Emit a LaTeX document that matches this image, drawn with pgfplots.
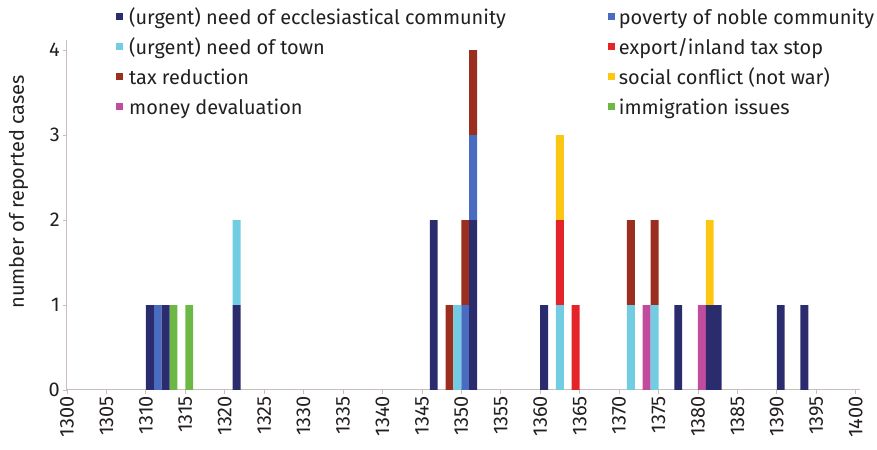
\documentclass[border=0pt]{standalone}
\usepackage{pgfplots}
\pgfplotsset{compat=1.18}
\usepackage{pgfplotstable}
\usepackage{fontspec}
\setmainfont{Fira Sans}
\definecolor{ecc}{HTML}{2B2C6E}
\definecolor{pov}{HTML}{4A6CC0}
\definecolor{town}{HTML}{72CDE2}
\definecolor{expo}{HTML}{E52429}
\definecolor{tax}{HTML}{9B2E1F}
\definecolor{soc}{HTML}{FCC712}
\definecolor{mon}{HTML}{C14C9E}
\definecolor{imm}{HTML}{6BB944}
\definecolor{axgray}{HTML}{C9BEBA}
\definecolor{txt}{HTML}{231F20}

\pgfplotstableread{
x ecc pov town exp tax soc mon imm
1310.5 1 0 0 0 0 0 0 0
1311.5 0 1 0 0 0 0 0 0
1312.5 1 0 0 0 0 0 0 0
1313.5 0 0 0 0 0 0 0 1
1315.5 0 0 0 0 0 0 0 1
1321.5 1 0 1 0 0 0 0 0
1346.5 2 0 0 0 0 0 0 0
1348.5 0 0 0 0 1 0 0 0
1349.5 0 0 1 0 0 0 0 0
1350.5 0 1 0 0 1 0 0 0
1351.5 2 1 0 0 1 0 0 0
1360.5 1 0 0 0 0 0 0 0
1362.5 0 0 1 1 0 1 0 0
1364.5 0 0 0 1 0 0 0 0
1371.5 0 0 1 0 1 0 0 0
1373.5 0 0 0 0 0 0 1 0
1374.5 0 0 1 0 1 0 0 0
1377.5 1 0 0 0 0 0 0 0
1380.5 0 0 0 0 0 0 1 0
1381.5 1 0 0 0 0 1 0 0
1382.5 1 0 0 0 0 0 0 0
1390.5 1 0 0 0 0 0 0 0
1393.5 1 0 0 0 0 0 0 0
}\data

\newcommand{\ff}{\fontsize{20}{20}\selectfont}
\begin{document}
\begin{tikzpicture}
\begin{axis}[
  scale only axis, width=793bp, height=350bp,
  xmin=1300, xmax=1400.55, ymin=0, ymax=4.12,
  ybar stacked, bar width=1,
  axis x line=bottom, axis y line=left,
  axis line style={-, draw=axgray, line width=1bp},
  tick style={draw=axgray, line width=0.8bp},
  tick align=outside, major tick length=4bp,
  xtick={1300,1305,...,1400}, ytick={0,1,2,3,4},
  /pgf/number format/assume math mode=true,
  /pgf/number format/1000 sep={},
  ticklabel style={font=\ff, text=txt},
  xticklabel style={rotate=90, anchor=east, inner sep=2bp},
  yticklabel style={inner sep=3bp},
  ylabel={number of reported cases},
  ylabel style={font=\ff, text=txt, at={(axis description cs:-0.061,0.566)}, anchor=center},
  legend columns=2,
  legend cell align=left,
  legend image code/.code={\fill[#1] (0bp,-0.5bp) rectangle (7bp,6.5bp);},
  legend style={draw=none, fill=none, at={(axis description cs:0.058,1.092)}, anchor=north west,
    font=\ff, text=txt,
    nodes={inner sep=1bp, text height=14bp, text depth=4bp},
    row sep=10bp,
    /tikz/column 1/.style={column sep=5bp},
    /tikz/column 2/.style={column sep=101bp},
    /tikz/column 3/.style={column sep=3bp}},
]
\addplot[fill=ecc, draw=none] table[x=x, y=ecc] {\data};
\addlegendentry{(urgent) need of ecclesiastical community}
\addplot[fill=pov, draw=none] table[x=x, y=pov] {\data};
\addlegendentry{poverty of noble community}
\addplot[fill=town, draw=none] table[x=x, y=town] {\data};
\addlegendentry{(urgent) need of town}
\addplot[fill=expo, draw=none] table[x=x, y=exp] {\data};
\addlegendentry{export/inland tax stop}
\addplot[fill=tax, draw=none] table[x=x, y=tax] {\data};
\addlegendentry{tax reduction}
\addplot[fill=soc, draw=none] table[x=x, y=soc] {\data};
\addlegendentry{social conflict (not war)}
\addplot[fill=mon, draw=none] table[x=x, y=mon] {\data};
\addlegendentry{money devaluation}
\addplot[fill=imm, draw=none] table[x=x, y=imm] {\data};
\addlegendentry{immigration issues}
\path (rel axis cs:0,0) coordinate (O);
\end{axis}
\pgfresetboundingbox
\useasboundingbox ([shift={(-67bp,-60bp)}]O) rectangle ([shift={(810bp,390bp)}]O);
\end{tikzpicture}
\end{document}
